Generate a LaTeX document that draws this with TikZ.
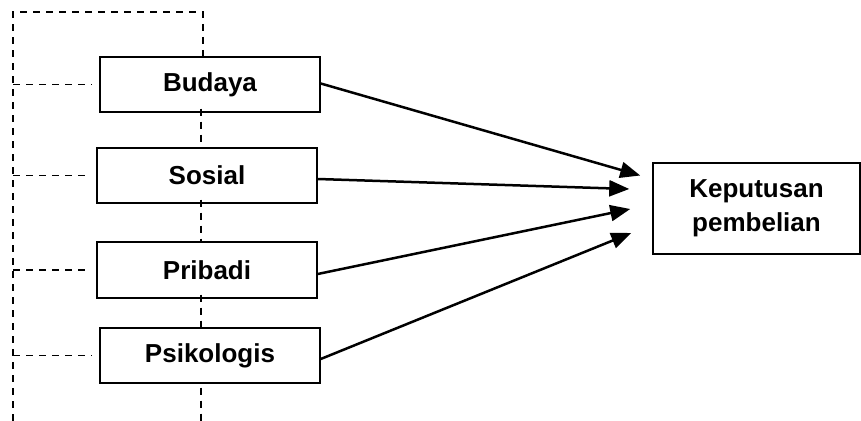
\documentclass[tikz,border=0pt]{standalone}
\usepackage{fontspec}
\setmainfont{Liberation Sans}
\usetikzlibrary{arrows.meta, positioning, calc}

\begin{document}
\begin{tikzpicture}[
    x=0.5pt, y=-0.5pt,
    factor/.style={draw, line width=0.75pt, minimum width=110pt, minimum height=27.5pt, font=\fontsize{13}{17}\selectfont\bfseries, align=center},
    link/.style={dash pattern=on 3.5pt off 3pt, line width=0.9pt},
    arrow/.style={-{Triangle[length=10pt, width=8pt]}, line width=1.25pt},
]
    \useasboundingbox (0,0) rectangle (861,421);

    \node[factor] (budaya) at (210,84.5) {Budaya};
    \node[factor] (sosial) at (207,175.5) {Sosial};
    \node[factor, minimum height=28pt] (pribadi) at (207,270) {Pribadi};
    \node[factor] (psikologis) at (210,355.5) {Psikologis};
    \node[factor, minimum width=103.5pt, minimum height=45.5pt] (keputusan) at (756.5,208.5) {Keputusan\\pembelian};

    % dashed frame on the left
    \coordinate (topleft) at (13,12);
    \coordinate (bottomleft) at (13,421);
    \coordinate (spine) at (201,0);
    \draw[link] (bottomleft) -- (topleft) -| ([xshift=-3.5pt]budaya.north);
    \foreach \f in {budaya, sosial, pribadi, psikologis}
        \draw[link] (topleft |- \f.west) -- ([xshift=-4pt]\f.west);
    \draw[link] ([yshift=2pt]budaya.south -| spine) -- (sosial.north -| spine);
    \draw[link] ([yshift=2pt]sosial.south -| spine) -- (pribadi.north -| spine);
    \draw[link] ([yshift=2pt]pribadi.south -| spine) -- (psikologis.north -| spine);
    \draw[link] ([yshift=-2pt]psikologis.south -| spine) -- (spine |- bottomleft);

    % arrows to the decision
    \draw[arrow] ($(budaya.east)+(0,-1)$) -- ($(keputusan.west)+(-12,-33)$);
    \draw[arrow] ($(sosial.east)+(0,3.5)$) -- ($(keputusan.west)+(-23,-19.5)$);
    \draw[arrow] ($(pribadi.east)+(0,4)$) -- ($(keputusan.west)+(-22,0.5)$);
    \draw[arrow] ($(psikologis.east)+(0,3.5)$) -- ($(keputusan.west)+(-21,24.5)$);
\end{tikzpicture}
\end{document}
